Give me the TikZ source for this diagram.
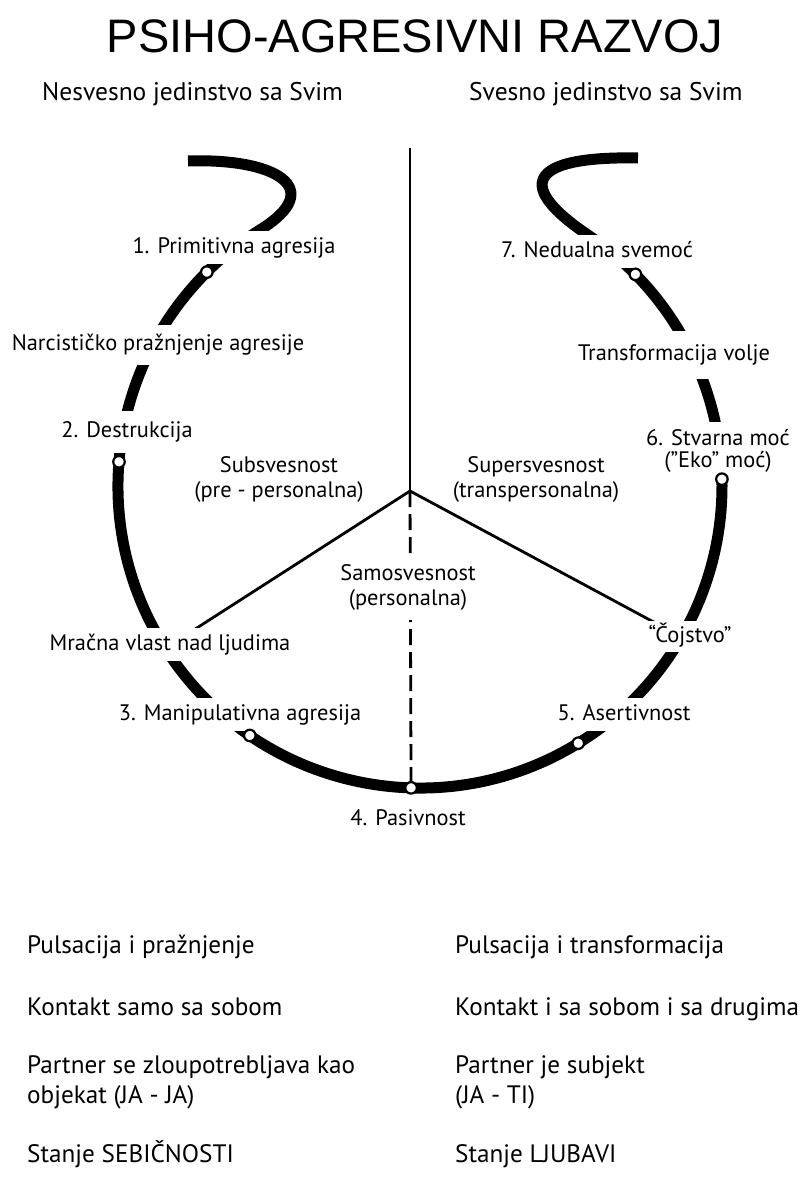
\documentclass[tikz,border=0pt]{standalone}
\usepackage{fontspec}
\setmainfont{PT Sans}
\newfontfamily\titlefont{Liberation Sans}
\begin{document}
\begin{tikzpicture}[x=1pt,y=-1pt]

% definitions
\tikzstyle{ring} = [line width=11pt]
\tikzstyle{ringdot} = [circle, draw=black, fill=white, line width=2.2pt, minimum size=11.5pt, inner sep=0pt]
\tikzstyle{stage} = [anchor=base, fill=white, inner xsep=3pt, inner ysep=6pt, text height=16pt, text depth=5pt, font=\fontsize{22.4}{25}\selectfont]
\tikzstyle{stagetwo} = [align=center, fill=white, inner xsep=3pt, inner ysep=6pt, font=\fontsize{22.4}{25}\selectfont]
\tikzstyle{heading} = [anchor=base west, inner sep=0pt, font=\fontsize{25.5}{28}\selectfont]
\tikzstyle{summary} = [anchor=base west, inner sep=0pt, font=\fontsize{25.2}{30}\selectfont]
\tikzstyle{axis} = [line width=2pt]
\tikzstyle{spoke} = [line width=2.8pt]
\tikzstyle{dashedaxis} = [line width=2.8pt, dash pattern=on 16pt off 7pt]

\useasboundingbox [fill=white] (0,0) rectangle (801,1178);

% the graph
\coordinate (c) at (420,486);
\coordinate (mid) at (410,491);
\coordinate (top) at (410,148);
\coordinate (left) at ([shift={(147.5:302)}]c);
\coordinate (right) at ([shift={(30:302)}]c);
\coordinate (d4) at ([shift={(91.7:302)}]c);

\draw [ring] (188,161) .. controls (275,158) and (328,188) .. ([shift={(238:302)}]c) arc[start angle=238, end angle=-56, radius=302] .. controls (506,180) and (540,156) .. (638,158);

\draw [axis] (top) -- (mid);
\draw [spoke] (mid) -- (left);
\draw [spoke] (mid) -- (right);
\draw [dashedaxis] (mid) -- (d4);

\node (title) [anchor=base, inner sep=0pt, font=\titlefont\fontsize{47}{50}\selectfont] at (415,52) {PSIHO-AGRESIVNI RAZVOJ};

\node (lefthead) [heading] at (42,100) {Nesvesno jedinstvo sa Svim};

\node (righthead) [heading] at (469,100) {Svesno jedinstvo sa Svim};

\node (s1) [stage] at (234,253) {1. Primitivna agresija};

\node (narc) [stage, inner ysep=9.5pt] at (158,350) {Narcističko pražnjenje agresije};

\node (s2) [stage, inner ysep=10.5pt] at (127,437) {2. Destrukcija};

\node (sub) [stagetwo] at (279,479) {Subsvesnost\\(pre - personalna)};

\node (super) [stagetwo] at (536,479) {Supersvesnost\\(transpersonalna)};

\node (samo) [stagetwo, inner ysep=10pt] at (408,587) {Samosvesnost\\(personalna)};

\node (vlast) [stage] at (170,650) {Mračna vlast nad ljudima};

\node (s3) [stage] at (240,720) {3. Manipulativna agresija};

\node (s4) [stage] at (408,825) {4. Pasivnost};

\node (s5) [stage] at (624,720) {5. Asertivnost};

\node (cojstvo) [stage, inner ysep=5pt] at (690,642) {“Čojstvo”};

\node (s6) [stagetwo, inner ysep=7pt, font=\fontsize{22.4}{22}\selectfont] at (718,450.5) {6. Stvarna moć\\(”Eko” moć)};

\node (volja) [stage, inner ysep=13.5pt] at (674,360) {Transformacija volje};

\node (s7) [stage] at (597,257) {7. Nedualna svemoć};

% stations on the ring
\foreach \n/\a in {1/225.1, 2/184.6, 3/124.3, 4/91.7, 5/58.4, 6/-1.3, 7/-44.5}
  \node (p\n) [ringdot] at ([shift={(\a:302)}]c) {};

% summary
\node (pulsl) [summary] at (27,953) {Pulsacija i pražnjenje};
\node (pulsr) [summary] at (455,953) {Pulsacija i transformacija};

\node (kontl) [summary] at (27,1015) {Kontakt samo sa sobom};
\node (kontr) [summary] at (455,1015) {Kontakt i sa sobom i sa drugima};

\node (partl) [summary] at (27,1073) {Partner se zloupotrebljava kao};
\node (objl) [summary] at (27,1103) {objekat (JA - JA)};
\node (partr) [summary] at (455,1073) {Partner je subjekt};
\node (objr) [summary] at (455,1103) {(JA - TI)};

\node (stanl) [summary] at (27,1162) {Stanje SEBIČNOSTI};
\node (stanr) [summary] at (455,1162) {Stanje LJUBAVI};

\end{tikzpicture}
\end{document}
